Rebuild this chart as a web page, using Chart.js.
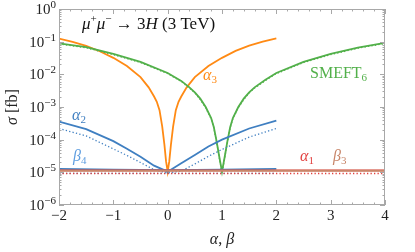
<!DOCTYPE html>
<html>
<head>
<meta charset="utf-8">
<script src="https://cdn.jsdelivr.net/npm/chart.js@4/dist/chart.umd.min.js"></script>
<style>
  html, body { margin: 0; padding: 0; background: #fff; }
  #wrap { width: 415px; height: 252px; }
</style>
</head>
<body>
<div id="wrap"><canvas id="chart" width="415" height="252"></canvas></div>
<script>
// values (x = alpha / beta, y = sigma in fb)
const alpha3X = [-2, -1.75, -1.5, -1.25, -1, -0.75, -0.5, -0.35, -0.25, -0.2, -0.15, -0.1, -0.06, -0.03, 0,
                 0.03, 0.06, 0.1, 0.15, 0.2, 0.25, 0.35, 0.5, 0.75, 1, 1.25, 1.5, 1.75, 2];
const alpha3Y = [0.125, 0.098, 0.074, 0.051, 0.032, 0.018, 0.0082, 0.0040, 0.0021, 0.00145, 0.0008, 0.00025, 0.00007, 0.000022, 0.0000105,
                 0.000022, 0.00007, 0.00025, 0.0008, 0.00145, 0.0021, 0.0040, 0.0082, 0.018, 0.032, 0.052, 0.076, 0.10, 0.127];

const smeftX = [-2, -1.5, -1, -0.5, 0, 0.25, 0.4, 0.5, 0.6, 0.7, 0.8, 0.85, 0.9, 0.95, 1,
                1.05, 1.1, 1.15, 1.2, 1.3, 1.4, 1.5, 1.6, 1.8, 2, 2.5, 3, 3.5, 4];
const smeftY = [0.089, 0.068, 0.042, 0.024, 0.011, 0.0063, 0.0040, 0.0028, 0.0018, 0.0010, 0.00046, 0.00024, 0.00009, 0.00003, 0.0000105,
                0.00003, 0.00009, 0.00024, 0.00046, 0.0010, 0.0018, 0.0028, 0.0040, 0.0068, 0.011, 0.024, 0.042, 0.066, 0.092];
const smeftDotY = [0.085, 0.065, 0.040, 0.023, 0.0105, 0.0060, 0.0038, 0.0027, 0.0017, 0.00095, 0.00044, 0.00023, 0.000085, 0.000028, 0.0000095,
                   0.000028, 0.000085, 0.00023, 0.00044, 0.00095, 0.0017, 0.0027, 0.0038, 0.0065, 0.0105, 0.023, 0.040, 0.063, 0.088];

const alpha2X = [-2, -1.5, -1, -0.75, -0.5, -0.25, 0, 0.25, 0.5, 0.75, 1, 1.5, 2];
const alpha2Y = [0.00036, 0.00021, 0.00009, 0.000053, 0.00003, 0.000016, 0.0000105, 0.000019, 0.000034, 0.000062, 0.0001, 0.00022, 0.00038];
const alpha2DotY = [0.00022, 0.00013, 0.000052, 0.000033, 0.00002, 0.000012, 0.0000095, 0.000011, 0.000018, 0.000031, 0.00005, 0.00012, 0.00022];

const beta4X = [-2, -1, 0, 1, 2];
const beta4Y = [0.0000128, 0.000012, 0.0000117, 0.000012, 0.0000128];
const beta4DotY = [0.0000093, 0.0000093, 0.0000093, 0.0000093, 0.0000093];

const flatX = [-2, -1, 0, 1, 2, 3, 4];
const alpha1Y = [0.0000115, 0.0000115, 0.0000115, 0.0000115, 0.0000115, 0.0000115, 0.0000115];
const beta3Y = [0.0000112, 0.0000112, 0.0000112, 0.0000112, 0.0000112, 0.0000112, 0.0000112];
const alpha1DotY = [0.0000092, 0.0000092, 0.0000092, 0.0000092, 0.0000092, 0.0000092, 0.0000092];

const xTicks = [-2, -1, 0, 1, 2, 3, 4];
const xTickLabels = ['\u22122', '\u22121', '0', '1', '2', '3', '4'];
const yTickExps = [0, -1, -2, -3, -4, -5, -6];

const ORANGE = '#ff8a14';
const GREEN = '#52b04a';
const BLUE = '#3f7fc1';
const LBLUE = '#5f9ee0';
const RED = '#e2403f';
const BROWN = '#c8866a';
const SERIF = '"Liberation Serif", "DejaVu Serif", serif';

function pts(xs, ys) { return xs.map((v, i) => ({ x: v, y: ys[i] })); }

function line(xs, ys, color, dotted) {
  return {
    data: pts(xs, ys),
    borderColor: color,
    borderWidth: dotted ? 1.3 : 1.8,
    borderDash: dotted ? [1.3, 2.2] : [],
    pointRadius: 0,
    tension: 0,
    fill: false
  };
}

// draws a run of text pieces: {t, it (italic), s (size), dy (shift)}
function rich(ctx, parts, x, y, align, color) {
  const fontOf = p => (p.it ? 'italic ' : '') + p.s + 'px ' + SERIF;
  let w = 0;
  parts.forEach(p => { ctx.font = fontOf(p); w += ctx.measureText(p.t).width; });
  let cx = align === 'right' ? x - w : align === 'center' ? x - w / 2 : x;
  ctx.fillStyle = color;
  ctx.textAlign = 'left';
  ctx.textBaseline = 'alphabetic';
  parts.forEach(p => {
    ctx.font = fontOf(p);
    ctx.fillText(p.t, cx, y + (p.dy || 0));
    cx += ctx.measureText(p.t).width;
  });
}

const framePlugin = {
  id: 'frame',
  afterDatasetsDraw(chart) {
    const { ctx, chartArea: a, scales: { x, y } } = chart;
    ctx.save();
    ctx.strokeStyle = '#a8a8a8';
    ctx.lineWidth = 1;
    ctx.strokeRect(a.left + 0.5, a.top + 0.5, a.right - a.left - 1, a.bottom - a.top - 1);

    ctx.beginPath();
    for (let i = -10; i <= 20; i++) {
      const px = Math.round(x.getPixelForValue(i / 5)) + 0.5;
      const len = i % 5 === 0 ? 5 : 2.5;
      ctx.moveTo(px, a.bottom); ctx.lineTo(px, a.bottom - len);
      ctx.moveTo(px, a.top); ctx.lineTo(px, a.top + len);
    }
    for (let k = -6; k <= 0; k++) {
      for (let m = 1; m <= 9; m++) {
        if (k === 0 && m > 1) break;
        const py = Math.round(y.getPixelForValue(m * Math.pow(10, k))) + 0.5;
        const len = m === 1 ? 5 : 2.5;
        ctx.moveTo(a.left, py); ctx.lineTo(a.left + len, py);
        ctx.moveTo(a.right, py); ctx.lineTo(a.right - len, py);
      }
    }
    ctx.stroke();

    // tick labels
    xTicks.forEach((v, i) => {
      rich(ctx, [{ t: xTickLabels[i], s: 15 }], x.getPixelForValue(v), a.bottom + 15, 'center', '#222');
    });
    yTickExps.forEach(e => {
      const py = y.getPixelForValue(Math.pow(10, e));
      const ex = e === 0 ? '0' : '\u2212' + (-e);
      rich(ctx, [{ t: '10', s: 15 }, { t: ex, s: 11, dy: -6 }], a.left - 3, py + 5, 'right', '#222');
    });

    // axis titles
    rich(ctx, [{ t: '\u03b1', it: true, s: 16 }, { t: ', ', s: 16 }, { t: '\u03b2', it: true, s: 16 }],
      (a.left + a.right) / 2, 244, 'center', '#222');
    ctx.save();
    ctx.translate(17, (a.top + a.bottom) / 2);
    ctx.rotate(-Math.PI / 2);
    rich(ctx, [{ t: '\u03c3', it: true, s: 16 }, { t: ' [fb]', s: 16 }], 0, 0, 'center', '#222');
    ctx.restore();

    // in-plot labels
    rich(ctx, [{ t: '\u03bc', it: true, s: 17 }, { t: '+', s: 11, dy: -7 }, { t: '\u03bc', it: true, s: 17 },
               { t: '\u2212', s: 11, dy: -7 }, { t: ' \u2192 3', s: 17 }, { t: 'H', it: true, s: 17 },
               { t: ' (3 TeV)', s: 17 }], 82, 29, 'left', '#111');
    rich(ctx, [{ t: '\u03b1', it: true, s: 16 }, { t: '3', s: 11, dy: 3 }], 203, 80, 'left', ORANGE);
    rich(ctx, [{ t: 'SMEFT', s: 16 }, { t: '6', s: 11, dy: 3 }], 310, 78, 'left', GREEN);
    rich(ctx, [{ t: '\u03b1', it: true, s: 16 }, { t: '2', s: 11, dy: 3 }], 72, 120, 'left', BLUE);
    rich(ctx, [{ t: '\u03b2', it: true, s: 16 }, { t: '4', s: 11, dy: 3 }], 73, 161, 'left', LBLUE);
    rich(ctx, [{ t: '\u03b1', it: true, s: 16 }, { t: '1', s: 11, dy: 3 }], 300, 161, 'left', RED);
    rich(ctx, [{ t: '\u03b2', it: true, s: 16 }, { t: '3', s: 11, dy: 3 }], 333, 161, 'left', BROWN);
    ctx.restore();
  }
};

new Chart(document.getElementById('chart'), {
  type: 'line',
  data: {
    datasets: [
      line(flatX, alpha1DotY, RED, true),
      line(beta4X, beta4DotY, BLUE, true),
      line(flatX, beta3Y, BROWN, false),
      line(flatX, alpha1Y, RED, false),
      line(beta4X, beta4Y, BLUE, false),
      line(alpha2X, alpha2DotY, BLUE, true),
      line(alpha2X, alpha2Y, BLUE, false),
      line(smeftX, smeftDotY, GREEN, true),
      line(smeftX, smeftY, GREEN, false),
      line(alpha3X, alpha3Y, ORANGE, false)
    ]
  },
  options: {
    responsive: false,
    animation: false,
    devicePixelRatio: 1,
    layout: { padding: { top: 9, right: 30, left: 0, bottom: 0 } },
    plugins: { legend: { display: false }, tooltip: { enabled: false } },
    scales: {
      x: {
        type: 'linear', min: -2, max: 4,
        grid: { display: false }, border: { display: false },
        ticks: { display: false },
        afterFit: s => { s.height = 47; }
      },
      y: {
        type: 'logarithmic', min: 1e-6, max: 1,
        grid: { display: false }, border: { display: false },
        ticks: { display: false },
        afterFit: s => { s.width = 59; }
      }
    }
  },
  plugins: [framePlugin]
});
</script>
</body>
</html>
